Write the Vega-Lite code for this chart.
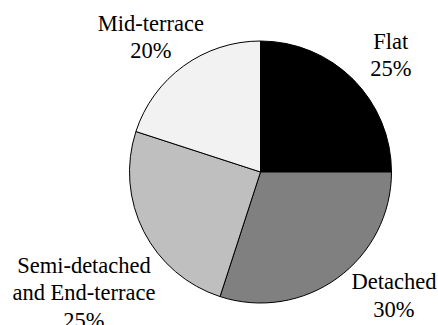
{
  "$schema": "https://vega.github.io/schema/vega-lite/v6.json",
  "width": 355,
  "height": 306,
  "autosize": {"type": "none"},
  "padding": {"left": 83, "top": 19, "right": 0, "bottom": 0},
  "background": "white",
  "config": {"view": {"stroke": null}},
  "data": {
    "values": [
      {"type": "Flat", "share": 25, "rank": 1},
      {"type": "Detached", "share": 30, "rank": 2},
      {"type": "Semi-detached\nand End-terrace", "share": 25, "rank": 3},
      {"type": "Mid-terrace", "share": 20, "rank": 4}
    ]
  },
  "transform": [
    {"calculate": "datum.type + '\\n' + datum.share + '%'", "as": "label"}
  ],
  "encoding": {
    "theta": {"field": "share", "type": "quantitative", "stack": true},
    "order": {"field": "rank", "type": "quantitative"}
  },
  "layer": [
    {
      "mark": {"type": "arc", "radius": 131, "stroke": "#000000", "strokeWidth": 1},
      "encoding": {
        "color": {
          "field": "type",
          "type": "nominal",
          "scale": {
            "domain": ["Flat", "Detached", "Semi-detached\nand End-terrace", "Mid-terrace"],
            "range": ["#000000", "#808080", "#bfbfbf", "#f2f2f2"]
          },
          "legend": null
        }
      }
    },
    {
      "mark": {"type": "text", "radius": 175, "dx": 6.6, "dy": -6.4, "font": "Liberation Serif", "fontSize": 22.5, "lineHeight": 27.5, "lineBreak": "\n", "align": "center", "baseline": "middle", "fill": "#000000"},
      "encoding": {
        "detail": {"field": "type", "type": "nominal"},
        "text": {"condition": {"test": "datum.rank === 1", "field": "label"}, "value": ""}
      }
    },
    {
      "mark": {"type": "text", "radius": 175, "dx": 30.6, "dy": -31.4, "font": "Liberation Serif", "fontSize": 22.5, "lineHeight": 27.5, "lineBreak": "\n", "align": "center", "baseline": "middle", "fill": "#000000"},
      "encoding": {
        "detail": {"field": "type", "type": "nominal"},
        "text": {"condition": {"test": "datum.rank === 2", "field": "label"}, "value": ""}
      }
    },
    {
      "mark": {"type": "text", "radius": 175, "dx": -20.6, "dy": 14.4, "font": "Liberation Serif", "fontSize": 22.5, "lineHeight": 27.5, "lineBreak": "\n", "align": "center", "baseline": "middle", "fill": "#000000"},
      "encoding": {
        "detail": {"field": "type", "type": "nominal"},
        "text": {"condition": {"test": "datum.rank === 3", "field": "label"}, "value": ""}
      }
    },
    {
      "mark": {"type": "text", "radius": 175, "dx": -6.8, "dy": -6.9, "font": "Liberation Serif", "fontSize": 22.5, "lineHeight": 27.5, "lineBreak": "\n", "align": "center", "baseline": "middle", "fill": "#000000"},
      "encoding": {
        "detail": {"field": "type", "type": "nominal"},
        "text": {"condition": {"test": "datum.rank === 4", "field": "label"}, "value": ""}
      }
    }
  ]
}
